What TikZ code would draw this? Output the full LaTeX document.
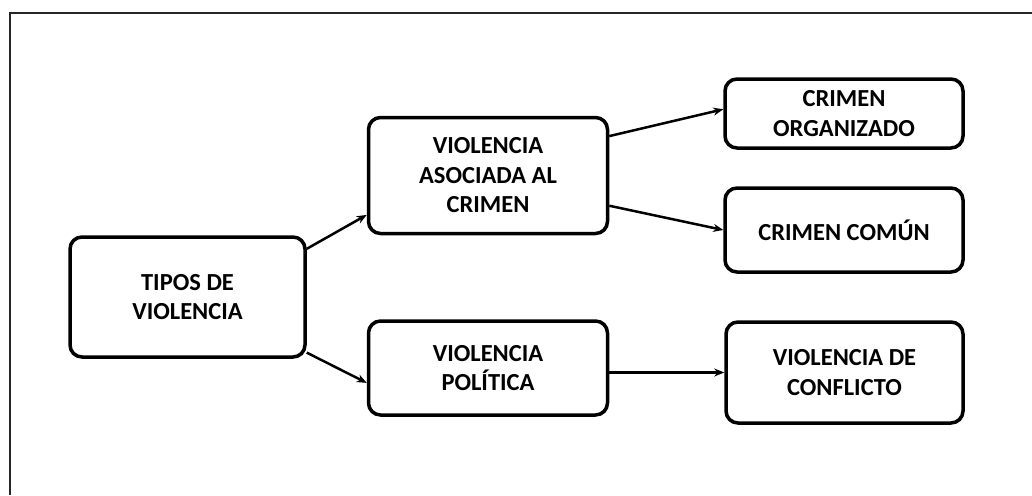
\documentclass[tikz,border=0pt]{standalone}
\usepackage{fontspec}
\setmainfont{Carlito}
\usetikzlibrary{positioning, arrows.meta}

\begin{document}
\begin{tikzpicture}[
    x=1pt, y=-1pt,
    >={Stealth[length=10pt, width=8pt]},
    frame/.style={draw=black!85, line width=1.6pt},
    box/.style={rectangle, draw, line width=3.5pt, rounded corners=12pt,
      minimum width=238pt, inner sep=0pt, align=center,
      font=\fontsize{24.5}{29.5}\selectfont\bfseries},
    link/.style={->, line width=2.5pt}
  ]
  \useasboundingbox (0,0) rectangle (1032,495);

  % --- FRAME ---
  \draw[frame] (1032,13) -- (10,13) -- (10,495);

  % --- BOXES ---
  \node[box, minimum width=235pt, minimum height=120pt] (tipos) at (187.5,297) {TIPOS DE\\VIOLENCIA};

  % Middle column
  \node[box, minimum width=239pt, minimum height=116pt, above right=0pt and 60pt of tipos] (vac) {VIOLENCIA\\ASOCIADA AL\\CRIMEN};
  \node[box, minimum width=239pt, minimum height=94pt, below=84pt of vac] (vp) {VIOLENCIA\\POLÍTICA};

  % Right column
  \node[box, minimum height=69pt] (co) at (844,113.5) {CRIMEN\\ORGANIZADO};
  \node[box, minimum height=84pt] (cc) at (844,230) {CRIMEN COMÚN};
  \node[box, minimum width=237pt, minimum height=101pt] (vdc) at (844.5,372.5) {VIOLENCIA DE\\CONFLICTO};

  % --- ARROWS ---
  \draw[link] (tipos.22) -- (vac.198);
  \draw[link] (tipos.-25) -- (vp.187);
  \draw[link] (vac.18.5) -- (co.178);
  \draw[link] (vac.-14) -- (cc.west);
  \draw[link] (vp.east |- vdc.west) -- (vdc.west);

\end{tikzpicture}
\end{document}
